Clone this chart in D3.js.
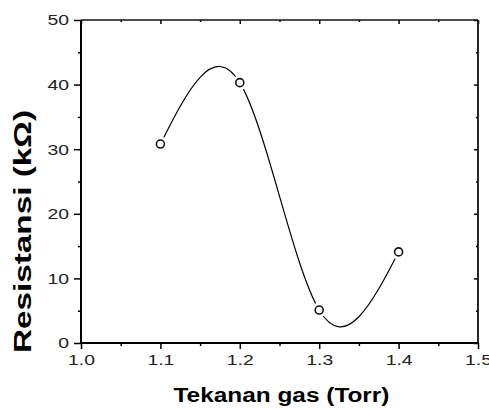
<!DOCTYPE html>
<html><head><meta charset="utf-8">
<script src="https://cdn.jsdelivr.net/npm/d3@7"></script>
<style>body{margin:0;background:#fff}svg{display:block}</style>
</head><body>
<script>
const pressure = [1.1, 1.2, 1.3, 1.4];
const resistance = [30.8, 40.3, 5.1, 14.1];
const xTicks = [1.0, 1.1, 1.2, 1.3, 1.4, 1.5];
const xMinor = [1.05, 1.15, 1.25, 1.35, 1.45];
const yTicks = [0, 10, 20, 30, 40, 50];
const yMinor = [5, 15, 25, 35, 45];
const xTitle = "Tekanan gas (Torr)";
const yTitle = "Resistansi (kΩ)";

const W = 489, H = 410;
const m = {l: 81, r: 11, t: 20, b: 67};
const svg = d3.select("body").append("svg").attr("width", W).attr("height", H);
const x = d3.scaleLinear().domain([1.0, 1.5]).range([m.l, W - m.r]);
const y = d3.scaleLinear().domain([0, 50]).range([H - m.b, m.t]);
const font = "'Liberation Sans', Arial, sans-serif";

function stretch(sel, f) {
  sel.each(function() {
    const w = this.getComputedTextLength();
    d3.select(this).attr("textLength", w * f).attr("lengthAdjust", "spacingAndGlyphs");
  });
}

// bottom axis
const gx = svg.append("g").attr("transform", `translate(0,${y(0)})`)
  .call(d3.axisBottom(x).tickValues(xTicks).tickFormat(d3.format(".1f")).tickSize(6).tickPadding(5));
gx.select(".domain").remove();
gx.selectAll("line").attr("stroke", "#000").attr("stroke-width", 1.5);
gx.selectAll("text").attr("font-family", font).attr("font-size", 15.5).attr("fill", "#222");
svg.append("g").attr("transform", `translate(0,${y(0)})`)
  .call(d3.axisBottom(x).tickValues(xMinor).tickFormat("").tickSize(3))
  .call(g => g.select(".domain").remove())
  .selectAll("line").attr("stroke", "#000").attr("stroke-width", 1.5);

// top axis
svg.append("g").attr("transform", `translate(0,${y(50)})`)
  .call(d3.axisBottom(x).tickValues(xTicks).tickFormat("").tickSize(4))
  .call(g => g.select(".domain").remove())
  .selectAll("line").attr("stroke", "#000").attr("stroke-width", 1.5);
svg.append("g").attr("transform", `translate(0,${y(50)})`)
  .call(d3.axisBottom(x).tickValues(xMinor).tickFormat("").tickSize(2))
  .call(g => g.select(".domain").remove())
  .selectAll("line").attr("stroke", "#000").attr("stroke-width", 1.5);

// left axis
const gy = svg.append("g").attr("transform", `translate(${x(1.0)},0)`)
  .call(d3.axisLeft(y).tickValues(yTicks).tickFormat(d3.format("d")).tickSize(7).tickPadding(5));
gy.select(".domain").remove();
gy.selectAll("line").attr("stroke", "#000").attr("stroke-width", 1.5);
gy.selectAll("text").attr("font-family", font).attr("font-size", 15.5).attr("fill", "#222");
svg.append("g").attr("transform", `translate(${x(1.0)},0)`)
  .call(d3.axisLeft(y).tickValues(yMinor).tickFormat("").tickSize(3))
  .call(g => g.select(".domain").remove())
  .selectAll("line").attr("stroke", "#000").attr("stroke-width", 1.5);

// right axis
svg.append("g").attr("transform", `translate(${x(1.5)},0)`)
  .call(d3.axisLeft(y).tickValues(yTicks).tickFormat("").tickSize(4))
  .call(g => g.select(".domain").remove())
  .selectAll("line").attr("stroke", "#000").attr("stroke-width", 1.5);
svg.append("g").attr("transform", `translate(${x(1.5)},0)`)
  .call(d3.axisLeft(y).tickValues(yMinor).tickFormat("").tickSize(2))
  .call(g => g.select(".domain").remove())
  .selectAll("line").attr("stroke", "#000").attr("stroke-width", 1.5);

// frame
svg.append("line").attr("x1", x(1.0)).attr("x2", x(1.5)).attr("y1", y(50)).attr("y2", y(50)).attr("stroke", "#111").attr("stroke-width", 1.6);
svg.append("line").attr("x1", x(1.5)).attr("x2", x(1.5)).attr("y1", y(50)).attr("y2", y(0)).attr("stroke", "#111").attr("stroke-width", 1.8);
svg.append("line").attr("x1", x(1.0) - 1).attr("x2", x(1.5) + 1).attr("y1", y(0)).attr("y2", y(0)).attr("stroke", "#000").attr("stroke-width", 2);
svg.append("line").attr("x1", x(1.0)).attr("x2", x(1.0)).attr("y1", y(50)).attr("y2", y(0)).attr("stroke", "#000").attr("stroke-width", 2);

// curve
const pts = pressure.map((p, i) => [p, resistance[i]]);
svg.append("path").datum(pts)
  .attr("d", d3.line().x(d => x(d[0])).y(d => y(d[1])).curve(d3.curveNatural))
  .attr("fill", "none").attr("stroke", "#000").attr("stroke-width", 1.2);
svg.selectAll("circle.halo").data(pts).join("circle").attr("class", "halo")
  .attr("cx", d => x(d[0])).attr("cy", d => y(d[1])).attr("r", 7.5).attr("fill", "#fff");
svg.selectAll("circle.mk").data(pts).join("circle").attr("class", "mk")
  .attr("cx", d => x(d[0])).attr("cy", d => y(d[1])).attr("r", 4)
  .attr("fill", "#fff").attr("stroke", "#111").attr("stroke-width", 1.6);

// titles
svg.append("text").attr("x", (x(1.0) + x(1.5)) / 2 + 2).attr("y", 402)
  .attr("text-anchor", "middle").attr("font-family", font).attr("font-weight", "bold")
  .attr("font-size", 19.5).attr("fill", "#000").attr("textLength", 216).attr("lengthAdjust", "spacingAndGlyphs")
  .text(xTitle);
svg.append("text").attr("transform", `translate(31,${(110 + 353) / 2}) rotate(-90)`)
  .attr("text-anchor", "middle").attr("font-family", font).attr("font-weight", "bold")
  .attr("font-size", 24).attr("fill", "#000").attr("textLength", 243).attr("lengthAdjust", "spacingAndGlyphs")
  .text(yTitle);

stretch(gx.selectAll("text"), 1.25);
stretch(gy.selectAll("text"), 1.25);
</script>
</body></html>
